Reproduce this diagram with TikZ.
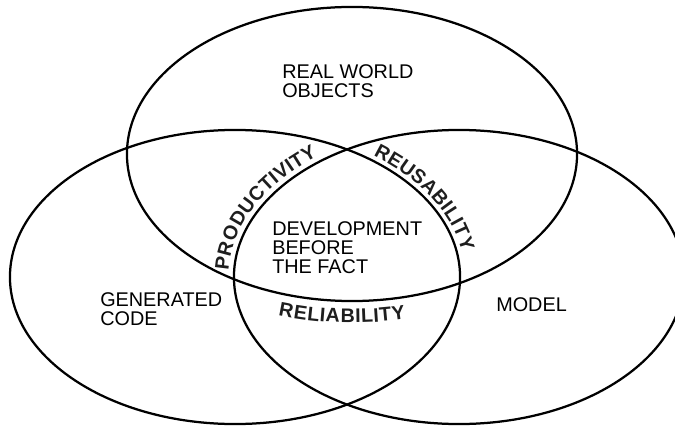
\documentclass[tikz,border=0pt]{standalone}
\usepackage{fontspec}
\setmainfont{Liberation Sans}
\usetikzlibrary{calc, decorations.text}
\definecolor{grisfonce}{RGB}{30,30,30}
\newcommand{\qualfont}{\bfseries\fontsize{14}{14}\selectfont\color{grisfonce}}

\begin{document}
\begin{tikzpicture}[x=0.025cm, y=0.025cm,
		contour/.style={line width=1.6pt},
		zone/.style={align=left, anchor=north west, inner sep=0pt,
			font=\fontsize{14.1}{13.8}\selectfont},
		qualite/.style={decorate,
			decoration={text along path, text align=center, #1}}]
	\clip (0,0) rectangle (675,428);
	
	% centres des trois ellipses
	\coordinate (haut) at (352,274);
	\coordinate (gauche) at (235,151);
	\coordinate (droite) at (459,151);
	\draw[contour] (haut) ellipse [x radius=5.625cm, y radius=3.675cm];
	\draw[contour] (gauche) ellipse [x radius=5.625cm, y radius=3.675cm];
	\draw[contour] (droite) ellipse [x radius=5.625cm, y radius=3.675cm];
	
	% textes des zones
	\node[zone] (reel) at (282,364) {REAL WORLD\\OBJECTS};
	\node[zone] (dbtf) at (272,207) {DEVELOPMENT\\BEFORE\\THE FACT};
	\node[zone] (code) at (100,136) {GENERATED\\CODE};
	\node[zone] (modele) at (496,131) {MODEL};
	
	% qualites le long des arcs
	\path[qualite={text={|\qualfont|PRODUCTIVITY}, raise=4pt}]
	($(droite)+(178:5.625cm and 3.675cm)$)
	arc[start angle=178, end angle=128, x radius=5.625cm, y radius=3.675cm];
	\path[qualite={text={|\qualfont|REUSABILITY}, raise=3.5pt}]
	($(gauche)+(53:5.625cm and 3.675cm)$)
	arc[start angle=53, end angle=9, x radius=5.625cm, y radius=3.675cm];
	\path[qualite={text={|\qualfont|RELIABILITY}, raise=-15.5pt}]
	($(haut)+(251:5.625cm and 3.675cm)$)
	arc[start angle=251, end angle=284, x radius=5.625cm, y radius=3.675cm];
\end{tikzpicture}
\end{document}
